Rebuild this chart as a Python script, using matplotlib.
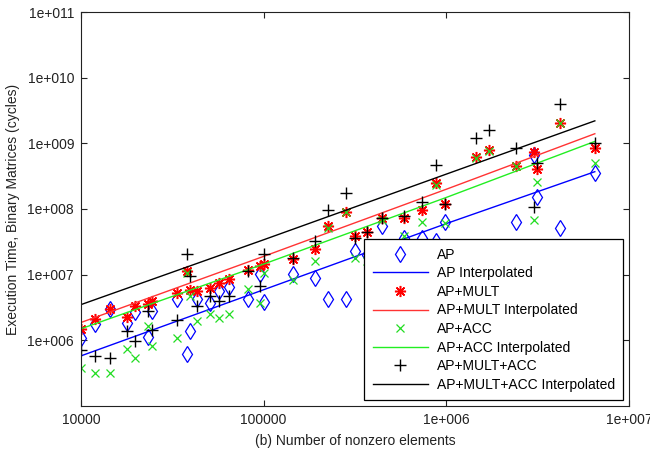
import matplotlib
matplotlib.use("Agg")
import matplotlib.pyplot as plt
from matplotlib.ticker import FixedLocator, FixedFormatter, NullLocator

plt.rcParams['font.family'] = ['Liberation Sans', 'DejaVu Sans']

# number of nonzero elements (shared by all four configurations)
nnz = [1.0e4, 1.2e4, 1.44e4, 1.78e4, 1.97e4, 2.32e4, 2.44e4, 3.35e4, 3.8e4, 3.94e4,
       4.3e4, 5.07e4, 5.68e4, 6.44e4, 8.18e4, 9.5e4, 1.01e5, 1.44e5, 1.92e5, 2.24e5,
       2.81e5, 3.18e5, 3.66e5, 4.47e5, 5.89e5, 7.39e5, 8.82e5, 9.88e5, 1.46e6, 1.72e6,
       2.41e6, 3.03e6, 3.14e6, 4.2e6, 6.5e6]

# execution time (cycles)
ap = [1.09e6, 1.79e6, 3.03e6, 1.85e6, 2.7e6, 1.13e6, 2.82e6, 4.3e6, 6.2e5, 1.4e6,
      4.3e6, 3.74e6, 5.7e6, 6.6e6, 4.3e6, 1.04e7, 3.87e6, 1.04e7, 9.0e6, 4.3e6,
      4.3e6, 2.3e7, 2.0e7, 5.6e7, 3.67e7, 3.67e7, 3.3e7, 6.4e7, 2.3e7, 2.0e7,
      6.4e7, 6.56e8, 1.55e8, 5.2e7, 3.5e8]
ap_mult = [1.5e6, 2.13e6, 3.03e6, 2.29e6, 3.37e6, 3.6e6, 4.0e6, 5.3e6, 1.15e7, 5.9e6,
           5.7e6, 6.3e6, 7.5e6, 8.7e6, 1.19e7, 1.37e7, 1.47e7, 1.75e7, 2.5e7, 5.6e7,
           8.85e7, 3.9e7, 4.5e7, 7.2e7, 7.4e7, 9.5e7, 2.45e8, 1.21e8, 6.1e8, 7.8e8,
           4.46e8, 7.3e8, 4.0e8, 2.02e9, 8.4e8]
ap_acc = [3.8e5, 3.2e5, 3.2e5, 7.4e5, 5.4e5, 1.66e6, 8.2e5, 1.09e6, 1.07e7, 4.8e6,
          1.99e6, 2.54e6, 2.21e6, 2.54e6, 6.1e6, 3.74e6, 1.07e7, 8.4e6, 1.64e7, 5.2e7,
          8.85e7, 1.82e7, 1.6e7, 6.7e7, 3.9e7, 6.4e7, 2.29e8, 6.2e7, 5.9e8, 7.55e8,
          4.46e8, 6.9e7, 2.54e8, 2.02e9, 4.95e8]
ap_mult_acc = [7.2e5, 5.8e5, 5.4e5, 1.4e6, 9.8e5, 2.82e6, 1.45e6, 2.06e6, 2.1e7, 9.7e6,
               3.37e6, 4.8e6, 4.0e6, 4.8e6, 1.15e7, 6.8e6, 2.1e7, 1.82e7, 3.3e7, 9.8e7,
               1.73e8, 3.67e7, 4.5e7, 7.2e7, 7.7e7, 1.3e8, 4.6e8, 1.21e8, 1.19e9, 1.58e9,
               8.4e8, 1.09e8, 5.1e8, 3.94e9, 1.0e9]

# interpolated (fitted) curves
fit_x = [1.0e4, 1.0e5, 1.0e6, 6.5e6]
ap_fit = [5.8e5, 5.9e6, 6.0e7, 3.7e8]
ap_mult_fit = [1.87e6, 1.9e7, 2.0e8, 1.4e9]
ap_acc_fit = [1.5e6, 1.45e7, 1.5e8, 1.07e9]
ap_mult_acc_fit = [3.5e6, 3.4e7, 3.4e8, 2.2e9]

fig = plt.figure(figsize=(6.5, 4.49), dpi=100)
ax = fig.add_axes([81 / 650, 1 - 406 / 449, 548 / 650, 394 / 449])

ax.plot(nnz, ap, linestyle='none', marker='d', ms=8, mfc='none', mec='#0000ff', mew=0.9, label='AP')
ax.plot(fit_x, ap_fit, color='#0000ff', lw=1, label='AP Interpolated')
ax.plot(nnz, ap_mult, linestyle='none', marker=(8, 2, 0), ms=8, mec='#ff0000', mew=1.1, label='AP+MULT')
ax.plot(fit_x, ap_mult_fit, color='#ff3333', lw=1, label='AP+MULT Interpolated')
ax.plot(nnz, ap_acc, linestyle='none', marker='x', ms=5.5, mec='#22dd22', mew=0.9, label='AP+ACC')
ax.plot(fit_x, ap_acc_fit, color='#22ee22', lw=1, label='AP+ACC Interpolated')
ax.plot(nnz, ap_mult_acc, linestyle='none', marker='+', ms=9, mec='black', mew=1.0, label='AP+MULT+ACC')
ax.plot(fit_x, ap_mult_acc_fit, color='black', lw=1, label='AP+MULT+ACC Interpolated')

ax.set_xscale('log')
ax.set_yscale('log')
ax.set_xlim(1e4, 1e7)
ax.set_ylim(1e5, 1e11)

xt = [1e4, 1e5, 1e6, 1e7]
ax.xaxis.set_major_locator(FixedLocator(xt))
ax.xaxis.set_major_formatter(FixedFormatter(['10000', '100000', '1e+006', '1e+007']))
ax.xaxis.set_minor_locator(NullLocator())
yt = [1e6, 1e7, 1e8, 1e9, 1e10, 1e11]
ax.yaxis.set_major_locator(FixedLocator(yt))
ax.yaxis.set_major_formatter(FixedFormatter(['1e+006', '1e+007', '1e+008', '1e+009', '1e+010', '1e+011']))
ax.yaxis.set_minor_locator(NullLocator())
ax.tick_params(direction='in', top=True, right=True, length=4.5, width=0.8,
               labelsize=10, pad=5, colors='#222222')
for s in ax.spines.values():
    s.set_linewidth(0.8)
    s.set_color('#222222')

ax.set_xlabel('(b) Number of nonzero elements', fontsize=10, color='#222222', labelpad=5)
ax.set_ylabel('Execution Time, Binary Matrices (cycles)', fontsize=10, color='#222222', labelpad=5)

leg = ax.legend(loc='lower right', bbox_to_anchor=(0.989, 0.015), borderaxespad=0,
                fontsize=10, fancybox=False, frameon=True, edgecolor='black', framealpha=1,
                handlelength=4.0, labelspacing=0.33, handletextpad=0.6, borderpad=0.6)
leg.get_frame().set_linewidth(0.9)

fig.savefig('out.png', dpi=100)
